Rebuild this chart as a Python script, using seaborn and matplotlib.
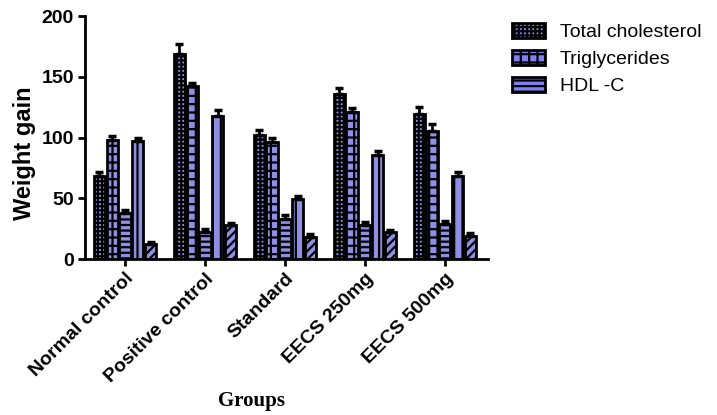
import matplotlib
matplotlib.use("Agg")
import matplotlib.pyplot as plt
import pandas as pd
import seaborn as sns
from matplotlib.patches import Patch

# Lipid profile per treatment group
groups = ["Normal control", "Positive control", "Standard", "EECS 250mg", "EECS 500mg"]
series = ["Total cholesterol", "Triglycerides", "HDL -C", "LDL -C", "VLDL -C"]

total_chol = [68, 169, 102, 136, 119]
triglycerides = [98, 142, 96, 121, 105]
hdl = [38, 22, 33, 28, 29]
ldl = [97, 118, 49, 86, 68]
vldl = [12, 28, 18, 22, 19]

total_chol_err = [4, 8, 4, 5, 6]
triglycerides_err = [3, 3, 3.5, 3, 6]
hdl_err = [2.5, 3, 3.5, 2.5, 2.5]
ldl_err = [2.5, 5, 2.5, 2.5, 4]
vldl_err = [2, 1.5, 2.5, 2, 2.5]

yticks = [0, 50, 100, 150, 200]

values = [total_chol, triglycerides, hdl, ldl, vldl]
errors = [total_chol_err, triglycerides_err, hdl_err, ldl_err, vldl_err]
hatches = ["++++", "++", "---", "||", "////"]
fill = "#8080f4"

rows = []
for name, vals in zip(series, values):
    for g, v in zip(groups, vals):
        rows.append({"group": g, "series": name, "value": v})
df = pd.DataFrame(rows)

sns.set_style("ticks")
plt.rcParams["hatch.linewidth"] = 1.6
plt.rcParams["text.color"] = "black"
plt.rcParams["axes.labelcolor"] = "black"
plt.rcParams["xtick.color"] = "black"
plt.rcParams["ytick.color"] = "black"

fig = plt.figure(figsize=(7.17, 4.15), dpi=100)
ax = fig.add_axes([85 / 717, 1 - 259 / 415, 403 / 717, 243 / 415])

sns.barplot(
    data=df, x="group", y="value", hue="series",
    order=groups, hue_order=series,
    palette=[fill] * len(series), edgecolor="black", linewidth=2,
    width=0.8, gap=0.12, errorbar=None, legend=False, ax=ax,
)

for cont, hatch, errs in zip(ax.containers, hatches, errors):
    xs, ys = [], []
    for bar in cont:
        bar.set_hatch(hatch)
        xs.append(bar.get_x() + bar.get_width() / 2)
        ys.append(bar.get_height())
    ax.errorbar(xs, ys, yerr=[[0] * len(errs), errs], fmt="none",
                ecolor="black", elinewidth=2, capsize=3, capthick=2.5, zorder=1)

ax.set_xlim(-0.5, 4.54)
ax.set_ylim(0, 200)
ax.set_yticks(yticks)
ax.set_yticklabels([str(t) for t in yticks], fontsize=14, fontweight="bold",
                   fontfamily="Liberation Sans", color="black")
ax.set_xticks(range(len(groups)))
ax.set_xticklabels(groups, rotation=45, ha="right", rotation_mode="anchor",
                   fontsize=14, fontweight="bold", fontfamily="Liberation Sans",
                   color="black")
ax.tick_params(axis="both", direction="out", length=5, width=2, color="black", pad=3)
ax.set_xlabel("")
ax.set_ylabel("Weight gain", fontsize=17, fontweight="bold",
              fontfamily="Liberation Sans", color="black")
ax.yaxis.set_label_coords(-0.122, 0.436)
for side in ["left", "bottom"]:
    ax.spines[side].set_linewidth(2)
    ax.spines[side].set_color("black")
sns.despine(ax=ax)

fig.text(251 / 717, 1 - 401 / 415, "Groups", ha="center", va="center",
         fontsize=15, fontweight="bold", fontfamily="Liberation Serif", color="black")

handles = [Patch(facecolor=fill, edgecolor="black", linewidth=2, hatch=h)
           for h in hatches[:3]]
fig.legend(handles, series[:3], loc="upper left",
           bbox_to_anchor=(512 / 717, 1 - 23 / 415), frameon=False,
           prop={"family": "Liberation Sans", "size": 14},
           handlelength=1.7, handleheight=0.8, labelspacing=0.45,
           handletextpad=0.75, borderpad=0, borderaxespad=0)

fig.savefig("out.png", dpi=100)
